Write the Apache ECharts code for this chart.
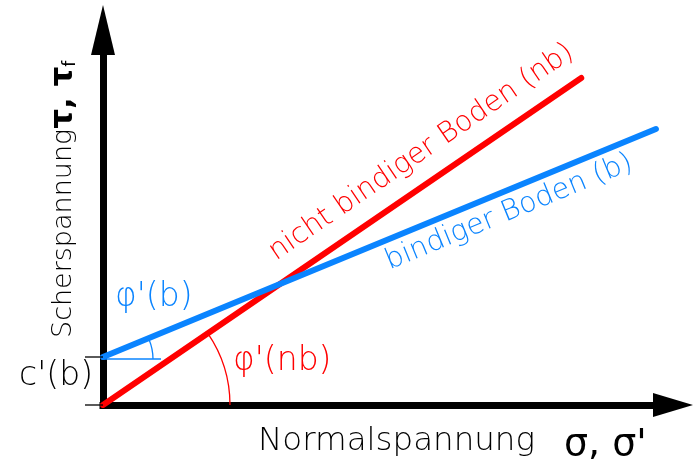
<!DOCTYPE html>
<html>
<head>
<meta charset="utf-8">
<script src="https://cdn.jsdelivr.net/npm/echarts@6/dist/echarts.min.js"></script>
<style>
  html, body { margin: 0; padding: 0; background: #fff; }
  #chart { width: 693px; height: 459px; }
</style>
</head>
<body>
<div id="chart"></div>
<script>
  // Schergerade: Normalspannung (x) gegen Scherspannung (y), willkuerliche Einheiten 0..100
  var sigmaNB = [0, 83.9];   // nicht bindiger Boden
  var tauNB = [0, 87.2];
  var sigmaB = [0, 97.0];    // bindiger Boden
  var tauB = [12.8, 73.6];   // tauB[0] = c'(b)

  var labelNB = 'nicht bindiger Boden (nb)';
  var labelB = 'bindiger Boden (b)';
  var phiB = "φ'(b)";
  var phiNB = "φ'(nb)";
  var cohesion = "c'(b)";

  var RED = '#ff0000';
  var BLUE = '#0a84ff';
  var FONT = '"DejaVu Sans", sans-serif';
  var THIN = '200 ';

  var myChart = echarts.init(document.getElementById('chart'));

  function renderNotes(params, api) {
    var o = api.coord([sigmaNB[0], tauNB[0]]);
    var pNB = api.coord([sigmaNB[1], tauNB[1]]);
    var c = api.coord([sigmaB[0], tauB[0]]);
    var pB = api.coord([sigmaB[1], tauB[1]]);
    var aNB = Math.atan2(pNB[1] - o[1], pNB[0] - o[0]);
    var aB = Math.atan2(pB[1] - c[1], pB[0] - c[0]);
    var lenNB = Math.hypot(pNB[0] - o[0], pNB[1] - o[1]);
    var lenB = Math.hypot(pB[0] - c[0], pB[1] - c[1]);

    // Punkt auf der Geraden, um d px senkrecht verschoben (d>0 = oberhalb)
    function along(p, a, s, d) {
      return [p[0] + Math.cos(a) * s + Math.sin(a) * d,
              p[1] + Math.sin(a) * s - Math.cos(a) * d];
    }
    var tNB = along(o, aNB, lenNB * 0.70, 29);
    var tB = along(c, aB, lenB * 0.72, -21);

    return {
      type: 'group',
      children: [
        // Winkelbogen phi'(nb)
        { type: 'arc', shape: { cx: o[0], cy: o[1], r: 127, startAngle: aNB, endAngle: 0, clockwise: true },
          style: { stroke: RED, lineWidth: 1.3, fill: 'none' } },
        // Hilfslinie + Winkelbogen phi'(b)
        { type: 'line', shape: { x1: c[0], y1: c[1] + 2, x2: c[0] + 58, y2: c[1] + 2 },
          style: { stroke: BLUE, lineWidth: 1.3 } },
        { type: 'arc', shape: { cx: c[0], cy: c[1] + 2, r: 50, startAngle: aB, endAngle: 0, clockwise: true },
          style: { stroke: BLUE, lineWidth: 1.3, fill: 'none' } },
        // Masslinien fuer c'
        { type: 'line', shape: { x1: c[0] - 18, y1: c[1], x2: c[0], y2: c[1] },
          style: { stroke: '#000', lineWidth: 1.3 } },
        { type: 'line', shape: { x1: o[0] - 18, y1: o[1], x2: o[0], y2: o[1] },
          style: { stroke: '#000', lineWidth: 1.3 } },
        // Beschriftungen
        { type: 'text', x: tNB[0], y: tNB[1], rotation: -aNB,
          style: { text: labelNB, fill: RED, font: THIN + '28.5px ' + FONT, align: 'center', verticalAlign: 'middle' } },
        { type: 'text', x: tB[0], y: tB[1], rotation: -aB,
          style: { text: labelB, fill: BLUE, font: THIN + '28.5px ' + FONT, align: 'center', verticalAlign: 'middle' } },
        { type: 'text', x: c[0] + 12, y: c[1] - 60,
          style: { text: phiB, fill: BLUE, font: THIN + '33px ' + FONT, align: 'left', verticalAlign: 'middle' } },
        { type: 'text', x: o[0] + 130, y: o[1] - 44,
          style: { text: phiNB, fill: RED, font: THIN + '33px ' + FONT, align: 'left', verticalAlign: 'middle' } },
        { type: 'text', x: o[0] - 10, y: (c[1] + o[1]) / 2 - 5,
          style: { text: cohesion, fill: '#000', font: THIN + '33px ' + FONT, align: 'right', verticalAlign: 'middle' } }
      ]
    };
  }

  var axisBase = {
    type: 'value',
    min: 0,
    max: 100,
    axisTick: { show: false },
    axisLabel: { show: false },
    splitLine: { show: false }
  };

  var option = {
    animation: false,
    grid: { left: 103, right: 20, top: 30, bottom: 54 },
    xAxis: Object.assign({}, axisBase, {
      axisLine: {
        show: true,
        symbol: ['none', 'triangle'],
        symbolSize: [24, 40],
        lineStyle: { color: '#000', width: 7, cap: 'square' }
      }
    }),
    yAxis: Object.assign({}, axisBase, {
      axisLine: {
        show: true,
        symbol: ['none', 'triangle'],
        symbolSize: [24, 50],
        lineStyle: { color: '#000', width: 7, cap: 'square' }
      }
    }),
    graphic: [
      { type: 'text', left: 258, top: 425,
        style: { text: 'Normalspannung', fill: '#000', font: THIN + '32.5px ' + FONT } },
      { type: 'text', left: 564, top: 426,
        style: { text: "σ, σ'", fill: '#000', font: '38px ' + FONT } },
      { type: 'text', x: 64, y: 338, rotation: Math.PI / 2,
        style: {
          text: '{a|Scherspannung}{t|τ, τ}{s|f}',
          align: 'left',
          verticalAlign: 'middle',
          rich: {
            a: { font: THIN + '27px ' + FONT, fill: '#000' },
            t: { font: 'bold 31px ' + FONT, fill: '#000' },
            s: { font: '17px ' + FONT, fill: '#000', verticalAlign: 'bottom' }
          }
        } }
    ],
    series: [
      {
        name: labelNB,
        type: 'line',
        data: sigmaNB.map(function (s, i) { return [s, tauNB[i]]; }),
        symbol: 'none',
        lineStyle: { color: RED, width: 6, cap: 'round' },
        z: 3
      },
      {
        name: labelB,
        type: 'line',
        data: sigmaB.map(function (s, i) { return [s, tauB[i]]; }),
        symbol: 'none',
        lineStyle: { color: BLUE, width: 6, cap: 'round' },
        z: 4
      },
      {
        type: 'custom',
        silent: true,
        renderItem: renderNotes,
        data: [[0, 0]],
        z: 5
      }
    ]
  };
  myChart.setOption(option);
</script>
</body>
</html>
